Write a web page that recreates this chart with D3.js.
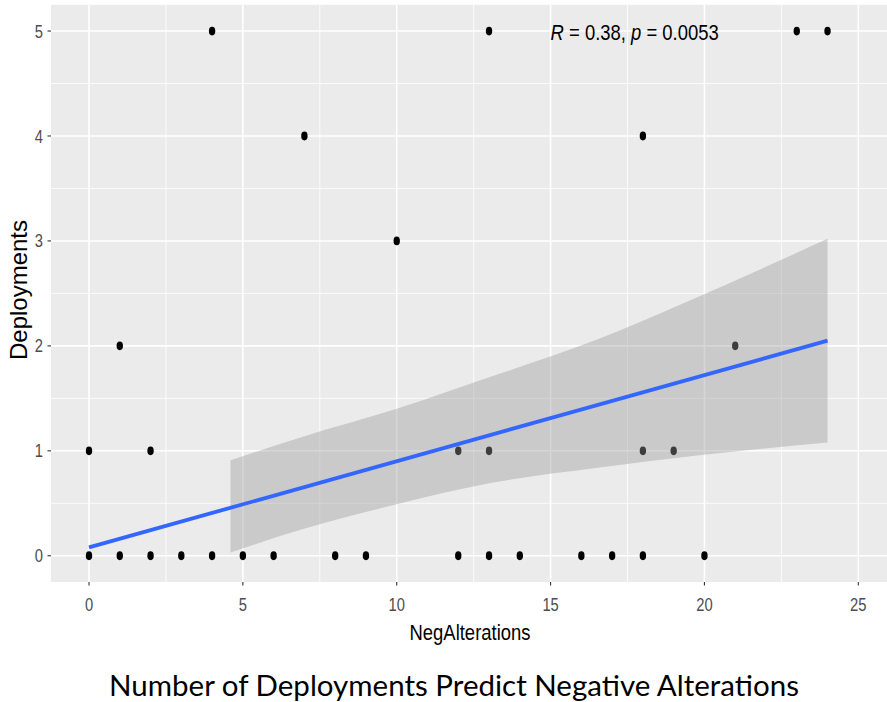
<!DOCTYPE html>
<html>
<head>
<meta charset="utf-8">
<script src="https://cdn.jsdelivr.net/npm/d3@7"></script>
<style>
  html, body { margin: 0; padding: 0; background: #ffffff; }
  svg { display: block; }
</style>
</head>
<body>
<svg id="chart" width="887" height="702"></svg>
<script>
// Observations: number of negative alterations vs. number of deployments
const negAlterations = [0, 1, 2, 3, 4, 5, 6, 8, 9, 12, 13, 14, 16, 17, 18, 20,
                        0, 2, 12, 13, 18, 19,
                        1, 21,
                        10,
                        7, 18,
                        4, 13, 23, 24];
const deployments    = [0, 0, 0, 0, 0, 0, 0, 0, 0, 0, 0, 0, 0, 0, 0, 0,
                        1, 1, 1, 1, 1, 1,
                        2, 2,
                        3,
                        4, 4,
                        5, 5, 5, 5];

// Linear fit (endpoints) and its confidence band
const fitX = [0, 24];
const fitY = [0.08, 2.05];
const bandX     = [4.6, 6.9, 10, 13, 16.6, 19.9, 24];
const bandUpper = [0.91, 1.13, 1.40, 1.70, 2.07, 2.48, 3.02];
const bandLower = [0.03, 0.25, 0.49, 0.69, 0.84, 0.96, 1.08];

// Axis ticks
const xTicks = [0, 5, 10, 15, 20, 25];
const yTicks = [0, 1, 2, 3, 4, 5];
const xMinor = [2.5, 7.5, 12.5, 17.5, 22.5];
const yMinor = [0.5, 1.5, 2.5, 3.5, 4.5];

const statLabel = { R: "0.38", p: "0.0053", atX: 15, atY: 5 };

const svg = d3.select("#chart");

// Panel geometry
const panel = { left: 51, right: 887, top: 4.8, bottom: 582 };
const x = d3.scaleLinear().domain([0, 25]).range([89, 858.3]);
const y = d3.scaleLinear().domain([-0.25, 5.25]).range([panel.bottom, panel.top]);

const SQ = 0.82; // horizontal squeeze of the plot text

// Panel background
svg.append("rect")
  .attr("x", panel.left).attr("y", panel.top)
  .attr("width", panel.right - panel.left)
  .attr("height", panel.bottom - panel.top)
  .attr("fill", "#EBEBEB");

const grid = svg.append("g");
// minor grid
grid.selectAll("line.xm").data(xMinor).join("line")
  .attr("x1", d => x(d)).attr("x2", d => x(d))
  .attr("y1", panel.top).attr("y2", panel.bottom)
  .attr("stroke", "#ffffff").attr("stroke-width", 0.8);
grid.selectAll("line.ym").data(yMinor).join("line")
  .attr("y1", d => y(d)).attr("y2", d => y(d))
  .attr("x1", panel.left).attr("x2", panel.right)
  .attr("stroke", "#ffffff").attr("stroke-width", 0.8);
// major grid
grid.selectAll("line.xM").data(xTicks).join("line")
  .attr("x1", d => x(d)).attr("x2", d => x(d))
  .attr("y1", panel.top).attr("y2", panel.bottom)
  .attr("stroke", "#ffffff").attr("stroke-width", 1.6);
grid.selectAll("line.yM").data(yTicks).join("line")
  .attr("y1", d => y(d)).attr("y2", d => y(d))
  .attr("x1", panel.left).attr("x2", panel.right)
  .attr("stroke", "#ffffff").attr("stroke-width", 1.6);

// Points
svg.append("g").selectAll("ellipse")
  .data(negAlterations.map((v, i) => [v, deployments[i]]))
  .join("ellipse")
  .attr("cx", d => x(d[0])).attr("cy", d => y(d[1]))
  .attr("rx", 3.2).attr("ry", 4.4)
  .attr("fill", "#000000");

// Confidence band
const band = d3.area()
  .curve(d3.curveMonotoneX)
  .x((d, i) => x(bandX[i]))
  .y0((d, i) => y(bandLower[i]))
  .y1((d, i) => y(bandUpper[i]));
svg.append("path")
  .attr("d", band(bandX))
  .attr("fill", "#999999").attr("fill-opacity", 0.4);

// Regression line
svg.append("line")
  .attr("x1", x(fitX[0])).attr("y1", y(fitY[0]))
  .attr("x2", x(fitX[1])).attr("y2", y(fitY[1]))
  .attr("stroke", "#3366FF").attr("stroke-width", 3.8);

// Squeezed text helper
function sqText(parent, px, py, str, opts) {
  const g = parent.append("g")
    .attr("transform", `translate(${px},${py}) scale(${opts.sx || SQ},1)`);
  const t = g.append("text")
    .attr("text-anchor", opts.anchor || "middle")
    .attr("dominant-baseline", "central")
    .attr("font-family", "'Liberation Sans', Arial, sans-serif")
    .attr("font-size", opts.size)
    .attr("fill", opts.fill || "#000");
  if (typeof str === "string") t.text(str);
  else str(t);
  return g;
}

// Axes: ticks
const axes = svg.append("g");
xTicks.forEach(v => {
  axes.append("line")
    .attr("x1", x(v)).attr("x2", x(v))
    .attr("y1", panel.bottom).attr("y2", panel.bottom + 3.5)
    .attr("stroke", "#333333").attr("stroke-width", 1.1);
  sqText(axes, x(v), 604, String(v), { size: 18, fill: "#4D4D4D" });
});
yTicks.forEach(v => {
  axes.append("line")
    .attr("x1", panel.left - 3.5).attr("x2", panel.left)
    .attr("y1", y(v)).attr("y2", y(v))
    .attr("stroke", "#333333").attr("stroke-width", 1.1);
  sqText(axes, 43, y(v), String(v), { size: 18, fill: "#4D4D4D", anchor: "end" });
});

// Axis titles
sqText(svg, 470, 632, "NegAlterations", { size: 22.5 });
svg.append("text")
  .attr("transform", "translate(18,290) rotate(-90)")
  .attr("text-anchor", "middle")
  .attr("dominant-baseline", "central")
  .attr("font-family", "'Liberation Sans', Arial, sans-serif")
  .attr("font-size", 24)
  .attr("fill", "#000")
  .text("Deployments");

// Correlation annotation
sqText(svg, x(statLabel.atX), y(statLabel.atY), t => {
  t.append("tspan").attr("font-style", "italic").text("R");
  t.append("tspan").text(` = ${statLabel.R}, `);
  t.append("tspan").attr("font-style", "italic").text("p");
  t.append("tspan").text(` = ${statLabel.p}`);
}, { size: 22.5, anchor: "start" });

// Caption
svg.append("text")
  .attr("x", 454).attr("y", 684)
  .attr("text-anchor", "middle")
  .attr("dominant-baseline", "central")
  .attr("font-family", "Lato, 'Open Sans', sans-serif")
  .attr("font-size", 29.5)
  .attr("fill", "#000")
  .text("Number of Deployments Predict Negative Alterations");
</script>
</body>
</html>
